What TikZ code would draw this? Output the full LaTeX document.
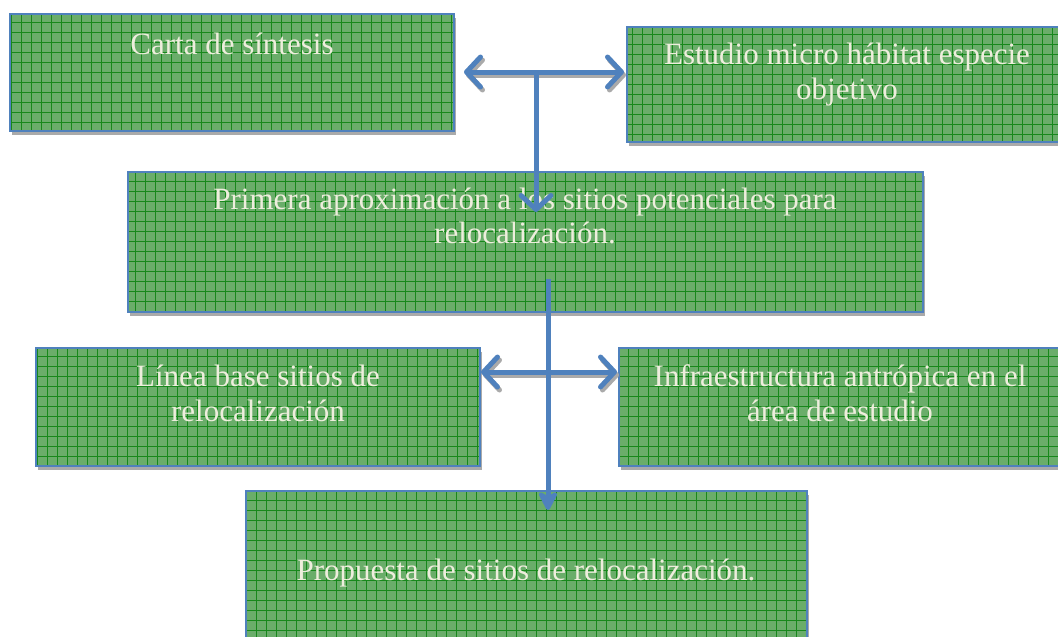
\documentclass[tikz,border=0pt]{standalone}
\usepackage{fontspec}
\setmainfont{Liberation Serif}
\usetikzlibrary{arrows.meta,shadows}
\definecolor{boxfill}{HTML}{6AAD6A}
\definecolor{gridc}{HTML}{17881B}
\definecolor{bord}{HTML}{4F81BD}
\definecolor{txt}{HTML}{EEEEDD}
\definecolor{shad}{HTML}{AAAAAA}
\tikzset{
  gbox/.style={draw=bord, line width=1.5pt, fill=boxfill, inner sep=0pt,
    anchor=north west, rectangle,
    drop shadow={shadow xshift=2pt, shadow yshift=-4pt, fill=shad, opacity=1},
    path picture={\draw[gridc, line width=1.2pt, step=10pt, shift={(0.5pt,0.5pt)}]
      (path picture bounding box.south west) ++(-20pt,-20pt) grid ([shift={(20pt,20pt)}]path picture bounding box.north east);}},
  lbl/.style={text=txt, font=\fontsize{31}{34.5}\selectfont, align=center, inner sep=0pt, anchor=base},
  arr/.style={draw=bord, line width=5pt},
  arrshadow/.style={draw=shad, line width=5pt, transform canvas={shift={(2pt,-3pt)}}},
  barb/.tip={Straight Barb[length=14pt, width=30pt, round]},
  fhead/.tip={Stealth[length=23pt, width=24pt, inset=7pt, round]}
}
\begin{document}
\begin{tikzpicture}[x=1pt,y=-1pt]
\useasboundingbox (0,0) rectangle (1058,637);
% boxes
\node[gbox, minimum width=444pt, minimum height=117pt] (carta) at (9,13) {};
\node[gbox, minimum width=432pt, minimum height=115pt] (estudio) at (626,26) {};
\node[gbox, minimum width=795pt, minimum height=140pt] (primera) at (127,171) {};
\node[gbox, minimum width=444pt, minimum height=118pt] (linea) at (35,347) {};
\node[gbox, minimum width=440pt, minimum height=118pt] (infra) at (618,347) {};
\node[gbox, minimum width=561pt, minimum height=160pt] (prop) at (245,490) {};
% texts (anchor=base is the baseline of the last line)
\node[lbl] (tcarta) at (232,54) {Carta de síntesis};
\node[lbl] (testudio) at (847,99) {Estudio micro hábitat especie\\objetivo};
\node[lbl] (tprimera) at (525,243.5) {Primera aproximación a los sitios potenciales para\\relocalización.};
\node[lbl] (tlinea) at (258,421) {Línea base sitios de\\relocalización};
\node[lbl] (tinfra) at (840,421) {Infraestructura antrópica en el\\área de estudio};
\node[lbl] (tprop) at (526,580) {Propuesta de sitios de relocalización.};
% connector points
\coordinate (a1L) at (464,72);
\coordinate (a1R) at (624,72);
\coordinate (a1C) at (536,72);
\coordinate (a1D) at (536,212);
\coordinate (a2T) at (548,279);
\coordinate (a2L) at (481,372);
\coordinate (a2R) at (617,372);
\coordinate (a2C) at (548,372);
\coordinate (a2D) at (548,510);
% shadows of connectors
\draw[arrshadow, {barb}-{barb}] (a1L) -- (a1R);
\draw[arrshadow, {barb}-{barb}] (a2L) -- (a2R);
% connectors
\draw[arr, {barb}-{barb}] (a1L) -- (a1R);
\draw[arr, -{barb}] (a1C) -- (a1D);
\draw[arr, {barb}-{barb}] (a2L) -- (a2R);
\draw[arr, -{fhead}] (a2T) -- (a2D);
\end{tikzpicture}
\end{document}
